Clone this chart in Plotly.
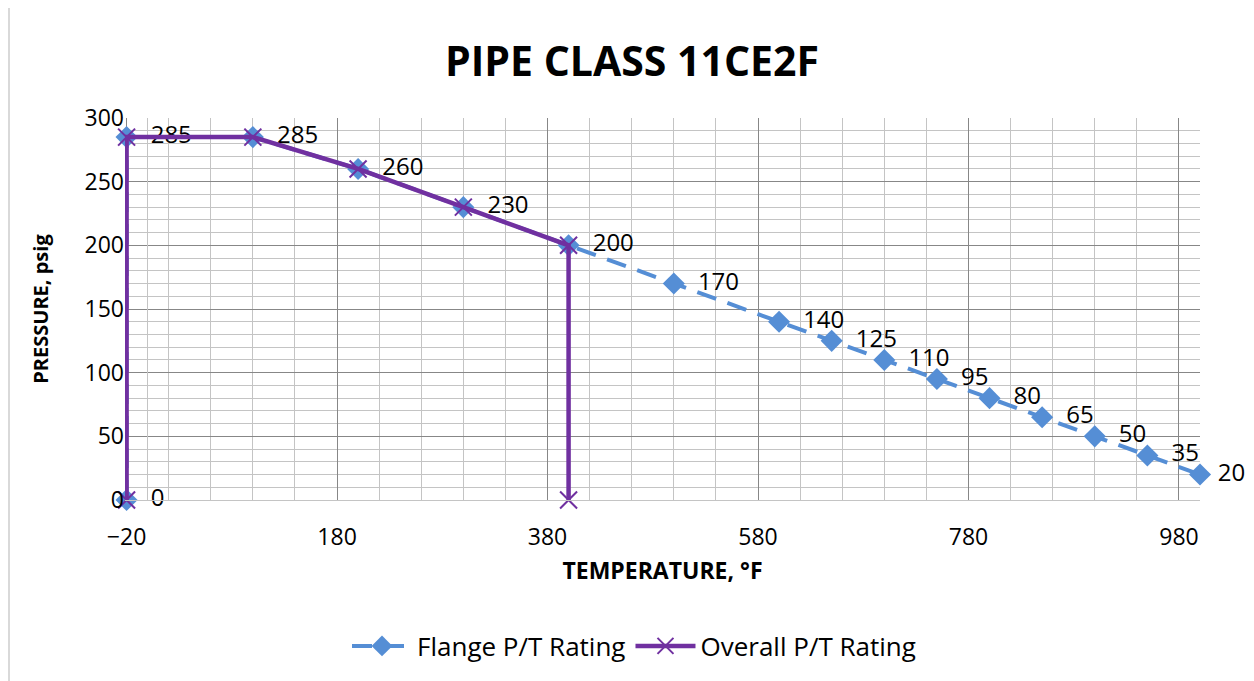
import plotly.graph_objects as go

# Data
flange_temp = [-20, -20, 100, 200, 300, 400, 500, 600, 650, 700, 750, 800, 850, 900, 950, 1000]
flange_press = [0, 285, 285, 260, 230, 200, 170, 140, 125, 110, 95, 80, 65, 50, 35, 20]
overall_temp = [-20, -20, 100, 200, 300, 400, 400]
overall_press = [0, 285, 285, 260, 230, 200, 0]
x_ticks = [-20, 180, 380, 580, 780, 980]
y_ticks = [0, 50, 100, 150, 200, 250, 300]

FONT = "Open Sans"
BLUE = "#558ED5"
PURPLE = "#7030A0"
MAJOR = "#878787"
MINOR = "#C4C4C4"
NB = "\u00a0"

labels = [NB * 2 + str(v) for v in flange_press]
labels[-1] = NB + str(flange_press[-1])  # keep the last label inside the page

fig = go.Figure()
fig.add_trace(go.Scatter(
    x=flange_temp, y=flange_press, name="Flange P/T Rating",
    mode="lines+markers+text",
    line=dict(color=BLUE, width=4, dash="20px,12px"),
    marker=dict(symbol="diamond", size=17, color=BLUE),
    text=labels, textposition="middle right",
    textfont=dict(family=FONT, size=24, color="#000000"),
    cliponaxis=False,
))
fig.add_trace(go.Scatter(
    x=overall_temp, y=overall_press, name="Overall P/T Rating",
    mode="lines+markers",
    line=dict(color=PURPLE, width=4.5),
    marker=dict(symbol="x-thin", size=17, color=PURPLE, line=dict(color=PURPLE, width=2)),
    cliponaxis=False,
))

# page body has an 8px margin, so the figure origin sits at (8, 8)
OFF = 8
W, H = 1254 - OFF, 681 - OFF
L = 125 - OFF
T = 118 - OFF
R = W + OFF - 1200
B = H + OFF - 500
pw = W - L - R
ph = H - T - B

fig.update_layout(
    width=W, height=H,
    margin=dict(l=L, r=R, t=T, b=B, autoexpand=False),
    paper_bgcolor="white", plot_bgcolor="white",
    font=dict(family=FONT, size=23, color="#000000"),
    title=dict(text="<b>PIPE CLASS 11CE2F</b>", x=(632 - OFF) / W, xref="container", xanchor="center",
               y=1 - (62 - OFF) / H, yref="container", yanchor="middle",
               font=dict(family=FONT, size=41, color="#000000")),
    showlegend=True,
    legend=dict(orientation="h", x=(634 - 125) / pw, xanchor="center",
                y=(500 - 646) / ph, yanchor="middle",
                font=dict(family=FONT, size=26, color="#000000"),
                itemwidth=60, tracegroupgap=0),
    xaxis=dict(
        range=[-21.5, 1000], tickmode="array", tickvals=x_ticks,
        showgrid=True, gridcolor=MAJOR, gridwidth=1,
        minor=dict(tick0=-20, dtick=40, showgrid=True, gridcolor=MINOR, gridwidth=1),
        zeroline=True, zerolinecolor=MINOR, zerolinewidth=1,
        showline=True, linecolor=MINOR, linewidth=1,
        ticks="outside", ticklen=16, tickcolor="rgba(0,0,0,0)",
        tickfont=dict(family=FONT, size=23),
        title=dict(text="<b>TEMPERATURE, °F</b>", font=dict(family=FONT, size=23), standoff=12),
    ),
    yaxis=dict(
        range=[0, 300], tickmode="array", tickvals=y_ticks,
        showgrid=True, gridcolor=MAJOR, gridwidth=1,
        minor=dict(dtick=10, showgrid=True, gridcolor=MINOR, gridwidth=1),
        zeroline=False,
        showline=False,
        ticks="", tickfont=dict(family=FONT, size=23),
        title=dict(text="<b>PRESSURE, psig</b>", font=dict(family=FONT, size=20), standoff=30),
    ),
)

# chart outer border
fig.add_shape(type="rect", xref="paper", yref="paper",
              x0=(9 - 125) / pw, x1=(1264 - 125) / pw,
              y0=(500 - 691) / ph, y1=(500 - 6) / ph,
              line=dict(color="#D9D9D9", width=2), fillcolor="rgba(0,0,0,0)", layer="below")

fig.write_html("out.html")
